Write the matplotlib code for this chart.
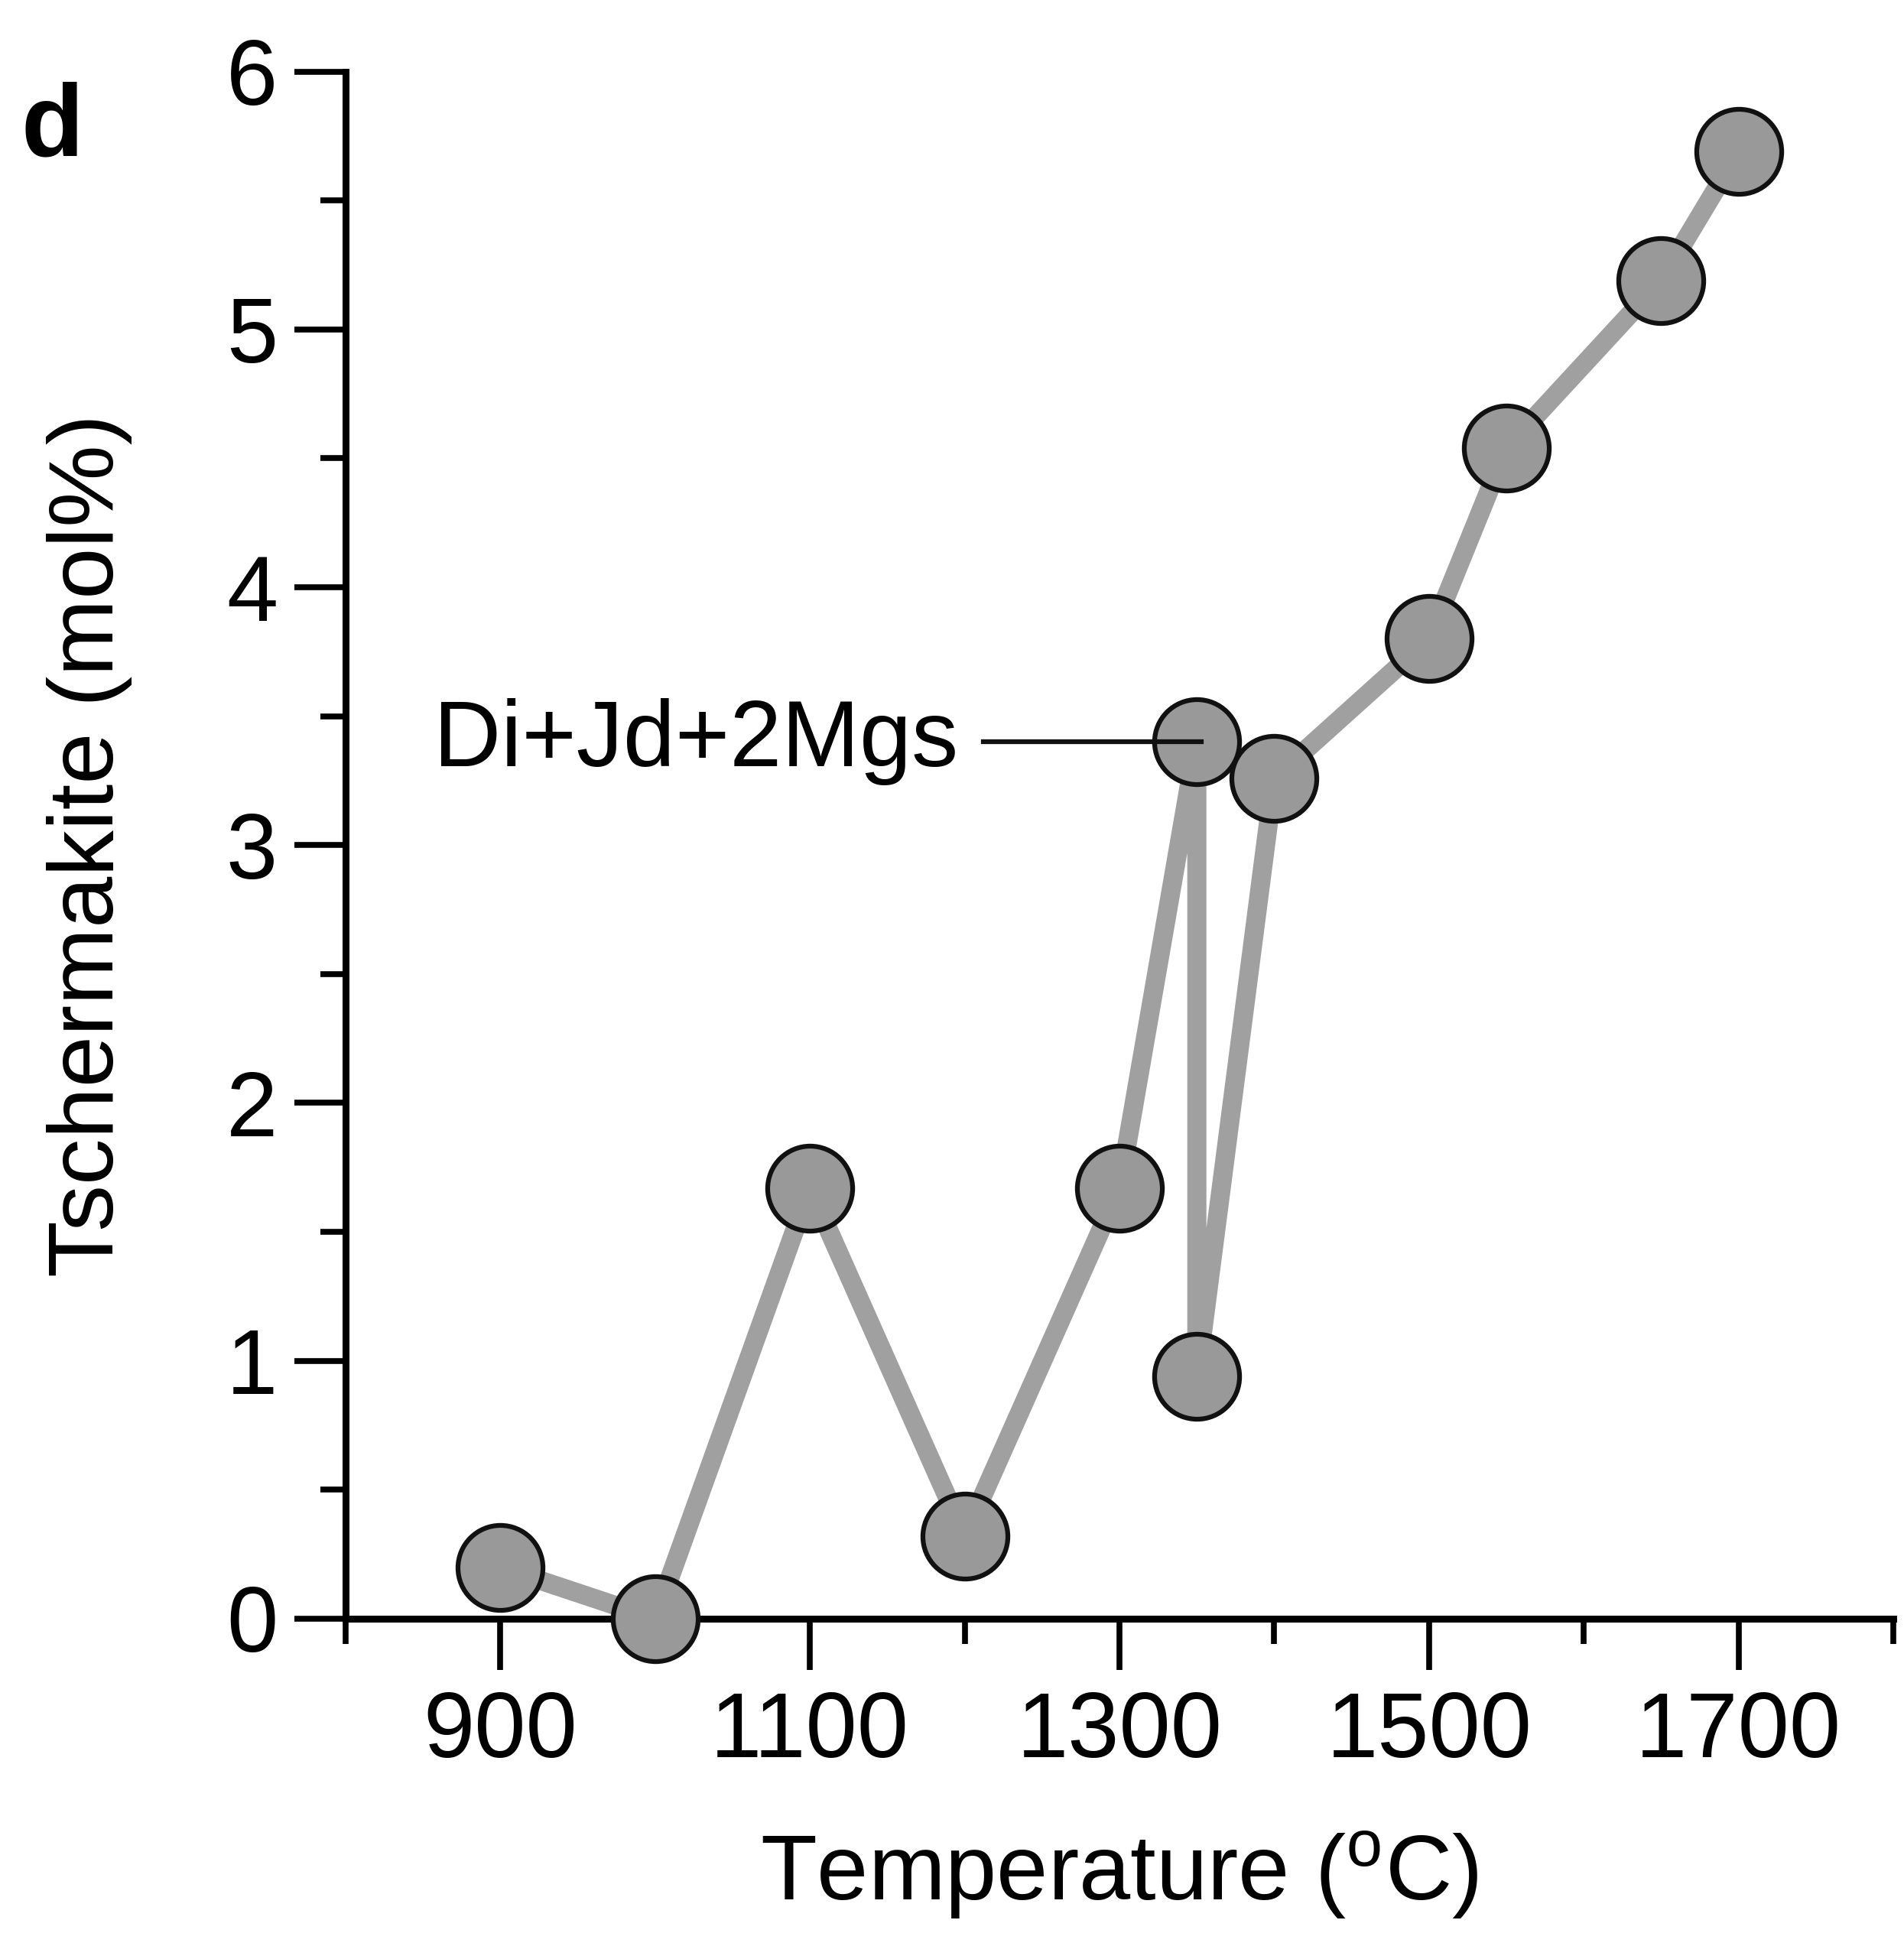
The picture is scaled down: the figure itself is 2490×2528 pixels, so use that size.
import matplotlib
matplotlib.use("Agg")
import matplotlib.pyplot as plt
from matplotlib.ticker import MultipleLocator

plt.rcParams['font.family'] = ['Liberation Sans', 'DejaVu Sans']
plt.rcParams['mathtext.fontset'] = 'custom'
plt.rcParams['mathtext.rm'] = 'Liberation Sans'

# temperature (C) and tschermakite content (mol%), in line order
temps = [900, 1000, 1100, 1200, 1300, 1350, 1350, 1400, 1500, 1550, 1650, 1700]
tsch = [0.20, 0.00, 1.67, 0.32, 1.67, 3.40, 0.94, 3.26, 3.80, 4.54, 5.19, 5.69]

label_text = 'Di+Jd+2Mgs'
label_pt = (1350, 3.40)

fig = plt.figure(figsize=(24.9, 25.28), dpi=100)
ax = fig.add_axes([0.1815, 0.1626, 0.8129, 0.8004])

ax.plot(temps, tsch, color='#a0a0a0', lw=18, zorder=2, solid_joinstyle='round',
        solid_capstyle='round')
ax.plot(temps, tsch, ls='none', marker='o', ms=80, mfc='#999999', mec='#111111',
        mew=4.5, zorder=3, clip_on=False)

# label with leader line
ax.plot([1212, label_pt[0] + 3], [label_pt[1], label_pt[1]], color='#111111', lw=4.5, zorder=4)
ax.text(1196, label_pt[1], label_text, fontsize=88, ha='right', va='center')

ax.set_xlim(800, 1800)
ax.set_ylim(0, 6)
for s in ['top', 'right']:
    ax.spines[s].set_visible(False)
for s in ['left', 'bottom']:
    ax.spines[s].set_linewidth(6.5)
    ax.spines[s].set_capstyle('projecting')

ax.xaxis.set_major_locator(MultipleLocator(200, offset=100))
ax.xaxis.set_minor_locator(MultipleLocator(200))
ax.yaxis.set_major_locator(MultipleLocator(1))
ax.yaxis.set_minor_locator(MultipleLocator(0.5))
ax.tick_params(which='major', length=48, width=5.5, labelsize=87, pad=20)
ax.tick_params(which='minor', length=24, width=5.5)
ax.tick_params(axis='y', which='major', pad=16)

ax.set_xlabel('Temperature ($\\mathregular{^o}$C)', fontsize=87, labelpad=50)
ax.set_ylabel('Tschermakite (mol%)', fontsize=87, labelpad=88)

fig.text(0.011, 0.958, 'd', fontsize=96, fontweight='bold', ha='left', va='top')

fig.savefig('out.png', dpi=100, facecolor='white')
